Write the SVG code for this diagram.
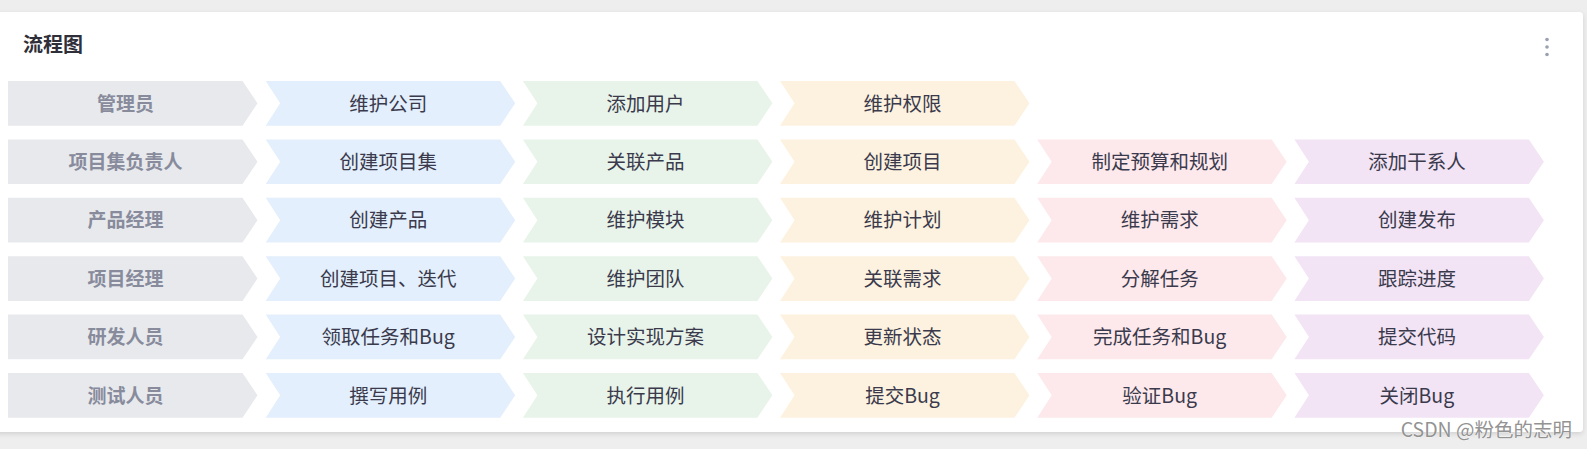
<svg xmlns="http://www.w3.org/2000/svg" xmlns:xlink="http://www.w3.org/1999/xlink" width="1587" height="449" viewBox="0 0 1587 449">
<style>
  text { font-family: "Noto Sans CJK SC", "Noto Sans", sans-serif; }
  .title { font-size: 20px; font-weight: bold; fill: #2f2f3a; }
  .lbl { font-size: 19px; font-weight: bold; fill: #878b9c; text-anchor: middle; }
  .t { font-size: 19.5px; fill: #3a3a4c; text-anchor: middle; }
  .f0 { fill: #e8e9ed; }
  .f1 { fill: #e3effc; }
  .f2 { fill: #e8f4ea; }
  .f3 { fill: #fdf2e0; }
  .f4 { fill: #fde9ec; }
  .f5 { fill: #f2e4f5; }
  .wm { font-size: 19.5px; fill: #939393; stroke: #ffffff; stroke-width: 0.6; paint-order: stroke; text-anchor: end; }
</style>
<defs>
  <path id="head" d="M0,0 H234.5 L249.5,22.35 L234.5,44.7 H0 Z"/>
  <path id="chev" d="M0,0 H234.5 L249.5,22.35 L234.5,44.7 H0 L14.5,22.35 Z"/>
  <filter id="sh" x="-2%" y="-5%" width="104%" height="115%">
    <feDropShadow dx="0" dy="2" stdDeviation="2.5" flood-color="#000000" flood-opacity="0.12"/>
  </filter>
</defs>
<rect width="1587" height="449" fill="#eeeeee"/>
<rect x="-6" y="12" width="1589" height="420" rx="4" fill="#ffffff" filter="url(#sh)"/>
<g id="header">
  <text class="title" x="23" y="52">流程图</text>
  <circle cx="1547" cy="39.5" r="1.8" fill="#9aa0b0"/>
  <circle cx="1547" cy="47" r="1.8" fill="#9aa0b0"/>
  <circle cx="1547" cy="54.5" r="1.8" fill="#9aa0b0"/>
</g>
<g id="connectors"/>
<g id="row1">
  <g id="r1c0"><use xlink:href="#head" x="8" y="81" class="f0"/><text class="lbl" x="125.5" y="110.5">管理员</text></g>
  <g id="r1c1"><use xlink:href="#chev" x="265.7" y="81" class="f1"/><text class="t" x="388.2" y="110.5">维护公司</text></g>
  <g id="r1c2"><use xlink:href="#chev" x="522.9" y="81" class="f2"/><text class="t" x="645.4" y="110.5">添加用户</text></g>
  <g id="r1c3"><use xlink:href="#chev" x="780" y="81" class="f3"/><text class="t" x="902.5" y="110.5">维护权限</text></g>
</g>
<g id="row2">
  <g id="r2c0"><use xlink:href="#head" x="8" y="139.4" class="f0"/><text class="lbl" x="125.5" y="168.9">项目集负责人</text></g>
  <g id="r2c1"><use xlink:href="#chev" x="265.7" y="139.4" class="f1"/><text class="t" x="388.2" y="168.9">创建项目集</text></g>
  <g id="r2c2"><use xlink:href="#chev" x="522.9" y="139.4" class="f2"/><text class="t" x="645.4" y="168.9">关联产品</text></g>
  <g id="r2c3"><use xlink:href="#chev" x="780" y="139.4" class="f3"/><text class="t" x="902.5" y="168.9">创建项目</text></g>
  <g id="r2c4"><use xlink:href="#chev" x="1037.2" y="139.4" class="f4"/><text class="t" x="1159.7" y="168.9">制定预算和规划</text></g>
  <g id="r2c5"><use xlink:href="#chev" x="1294.4" y="139.4" class="f5"/><text class="t" x="1416.9" y="168.9">添加干系人</text></g>
</g>
<g id="row3">
  <g id="r3c0"><use xlink:href="#head" x="8" y="197.8" class="f0"/><text class="lbl" x="125.5" y="227.3">产品经理</text></g>
  <g id="r3c1"><use xlink:href="#chev" x="265.7" y="197.8" class="f1"/><text class="t" x="388.2" y="227.3">创建产品</text></g>
  <g id="r3c2"><use xlink:href="#chev" x="522.9" y="197.8" class="f2"/><text class="t" x="645.4" y="227.3">维护模块</text></g>
  <g id="r3c3"><use xlink:href="#chev" x="780" y="197.8" class="f3"/><text class="t" x="902.5" y="227.3">维护计划</text></g>
  <g id="r3c4"><use xlink:href="#chev" x="1037.2" y="197.8" class="f4"/><text class="t" x="1159.7" y="227.3">维护需求</text></g>
  <g id="r3c5"><use xlink:href="#chev" x="1294.4" y="197.8" class="f5"/><text class="t" x="1416.9" y="227.3">创建发布</text></g>
</g>
<g id="row4">
  <g id="r4c0"><use xlink:href="#head" x="8" y="256.2" class="f0"/><text class="lbl" x="125.5" y="285.7">项目经理</text></g>
  <g id="r4c1"><use xlink:href="#chev" x="265.7" y="256.2" class="f1"/><text class="t" x="388.2" y="285.7">创建项目、迭代</text></g>
  <g id="r4c2"><use xlink:href="#chev" x="522.9" y="256.2" class="f2"/><text class="t" x="645.4" y="285.7">维护团队</text></g>
  <g id="r4c3"><use xlink:href="#chev" x="780" y="256.2" class="f3"/><text class="t" x="902.5" y="285.7">关联需求</text></g>
  <g id="r4c4"><use xlink:href="#chev" x="1037.2" y="256.2" class="f4"/><text class="t" x="1159.7" y="285.7">分解任务</text></g>
  <g id="r4c5"><use xlink:href="#chev" x="1294.4" y="256.2" class="f5"/><text class="t" x="1416.9" y="285.7">跟踪进度</text></g>
</g>
<g id="row5">
  <g id="r5c0"><use xlink:href="#head" x="8" y="314.6" class="f0"/><text class="lbl" x="125.5" y="344.1">研发人员</text></g>
  <g id="r5c1"><use xlink:href="#chev" x="265.7" y="314.6" class="f1"/><text class="t" x="388.2" y="344.1">领取任务和Bug</text></g>
  <g id="r5c2"><use xlink:href="#chev" x="522.9" y="314.6" class="f2"/><text class="t" x="645.4" y="344.1">设计实现方案</text></g>
  <g id="r5c3"><use xlink:href="#chev" x="780" y="314.6" class="f3"/><text class="t" x="902.5" y="344.1">更新状态</text></g>
  <g id="r5c4"><use xlink:href="#chev" x="1037.2" y="314.6" class="f4"/><text class="t" x="1159.7" y="344.1">完成任务和Bug</text></g>
  <g id="r5c5"><use xlink:href="#chev" x="1294.4" y="314.6" class="f5"/><text class="t" x="1416.9" y="344.1">提交代码</text></g>
</g>
<g id="row6">
  <g id="r6c0"><use xlink:href="#head" x="8" y="373" class="f0"/><text class="lbl" x="125.5" y="402.5">测试人员</text></g>
  <g id="r6c1"><use xlink:href="#chev" x="265.7" y="373" class="f1"/><text class="t" x="388.2" y="402.5">撰写用例</text></g>
  <g id="r6c2"><use xlink:href="#chev" x="522.9" y="373" class="f2"/><text class="t" x="645.4" y="402.5">执行用例</text></g>
  <g id="r6c3"><use xlink:href="#chev" x="780" y="373" class="f3"/><text class="t" x="902.5" y="402.5">提交Bug</text></g>
  <g id="r6c4"><use xlink:href="#chev" x="1037.2" y="373" class="f4"/><text class="t" x="1159.7" y="402.5">验证Bug</text></g>
  <g id="r6c5"><use xlink:href="#chev" x="1294.4" y="373" class="f5"/><text class="t" x="1416.9" y="402.5">关闭Bug</text></g>
</g>
<text class="wm" x="1572" y="437">CSDN @粉色的志明</text>
</svg>
